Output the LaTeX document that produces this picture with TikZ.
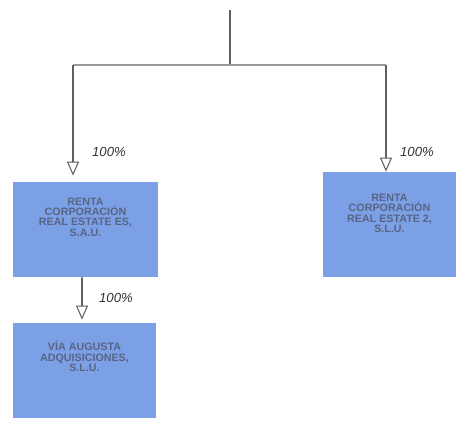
\documentclass[tikz,border=0pt]{standalone}
\usepackage{fontspec}
\setsansfont{Liberation Sans}
\usepackage{tikz}
\usetikzlibrary{arrows.meta}
\usepackage{xcolor}
\definecolor{boxblue}{RGB}{124,160,230}
\definecolor{boxtext}{RGB}{88,100,132}
\definecolor{linegray}{RGB}{95,95,95}

\tikzset{
  company/.style={fill=boxblue, draw=none, inner sep=0pt},
  firm/.style={align=center, inner sep=0pt, text=boxtext,
    font=\sffamily\bfseries\fontsize{6.1}{5.9}\selectfont},
  share/.style={font=\sffamily\itshape\fontsize{7.5}{9}\selectfont, text=black!80},
  link/.style={draw=linegray, line width=1pt},
  owns/.style={link, -{Triangle[open, length=0.28cm, width=0.24cm, line width=0.6pt]}}
}

\begin{document}
\begin{tikzpicture}

  \useasboundingbox (0,0) rectangle (9.16,8.42);

  % Companies
  \node[company, minimum width=2.90cm, minimum height=1.90cm] (rcres) at (1.71,3.83) {};
  \node[company, minimum width=2.66cm, minimum height=2.10cm] (rcre2) at (7.79,3.93) {};
  \node[company, minimum width=2.86cm, minimum height=1.90cm] (vaa) at (1.69,1.01) {};

  \node[firm] (rcrestxt) at ([yshift=0.25cm]rcres.center)
    {RENTA\\CORPORACIÓN\\REAL ESTATE ES,\\S.A.U.};
  \node[firm] (rcre2txt) at ([yshift=0.22cm]rcre2.center)
    {RENTA\\CORPORACIÓN\\REAL ESTATE 2,\\S.L.U.};
  \node[firm] (vaatxt) at ([yshift=0.28cm]vaa.center)
    {VÍA AUGUSTA\\ADQUISICIONES,\\S.L.U.};

  % Branch from the top
  \coordinate (top) at (4.60,8.22);
  \coordinate (split) at (4.60,7.12);
  \coordinate (lsplit) at (1.46,7.12);
  \coordinate (rsplit) at (7.72,7.12);

  \draw[link, line width=1.4pt] (top) -- (split);
  \draw[link, draw=black!40] (lsplit) -- (rsplit);
  \draw[owns, shorten >=0.12cm] (lsplit) -- (rcres.north -| lsplit);
  \draw[owns] (rsplit) -- (rcre2.north -| rsplit);
  \draw[owns, shorten >=0.06cm] ([xshift=-0.07cm]rcres.south) -- ([xshift=-0.05cm]vaa.north);

  % Percentages
  \node[share] (pleft) at (2.18,5.38) {100\%};
  \node[share] (pright) at (8.34,5.38) {100\%};
  \node[share] (plow) at (2.32,2.46) {100\%};

\end{tikzpicture}
\end{document}
